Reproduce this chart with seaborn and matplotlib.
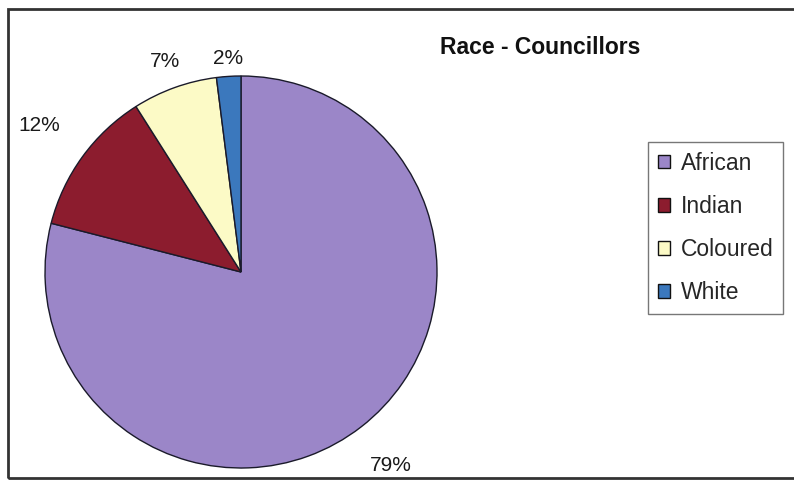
import numpy as np
import matplotlib
matplotlib.use("Agg")
import matplotlib.pyplot as plt
import seaborn as sns
from matplotlib.patches import Rectangle

# data
groups = ["African", "Indian", "Coloured", "White"]
shares = [79, 12, 7, 2]
pct_labels = ["79%", "12%", "7%", "2%"]
colors = ["#9b86c8", "#8c1c2e", "#fcfac6", "#3b78bd"]

# how far each percentage sits from the centre (in radii)
label_dist = [1.25, 1.27, 1.14, 1.09]

sns.set_theme(style="white")
plt.rcParams["font.family"] = ["Liberation Sans", "DejaVu Sans"]

fig = plt.figure(figsize=(7.94, 4.8), dpi=100)
fig.patch.set_facecolor("white")

# pie sits on the left of the canvas
ax = fig.add_axes([45 / 794, 12 / 480, 392 / 794, 392 / 480])
wedges, _ = ax.pie(shares, colors=colors, startangle=90, counterclock=False,
                   radius=1.0,
                   wedgeprops=dict(edgecolor="#1a1a2a", linewidth=1.0))
ax.set_xlim(-1.0, 1.0)
ax.set_ylim(-1.0, 1.0)
ax.set_aspect("equal")
ax.axis("off")

# percentage labels outside each wedge
for w, lab, d in zip(wedges, pct_labels, label_dist):
    mid = np.deg2rad((w.theta1 + w.theta2) / 2)
    ax.text(d * np.cos(mid), d * np.sin(mid), lab, ha="center", va="center",
            fontsize=15, color="#1a1a1a", clip_on=False)

fig.text(540 / 794, 1 - 47 / 480, "Race - Councillors", ha="center", va="center",
         fontsize=16.5, fontweight="bold", color="#111111")

leg = fig.legend(wedges, groups, loc="upper left",
                 bbox_to_anchor=(648 / 794, 1 - 142 / 480),
                 fontsize=16.5, frameon=True, fancybox=False, shadow=False,
                 handlelength=0.55, handleheight=0.55, handletextpad=0.45,
                 labelspacing=0.88, borderpad=0.42, borderaxespad=0)
leg.get_frame().set_edgecolor("#555555")
leg.get_frame().set_linewidth(1.0)
for h in leg.legend_handles:
    h.set_edgecolor("#111111")

# outer chart border (runs off the right edge)
fig.patches.append(Rectangle((8 / 794, 1 - 478 / 480), 1.0, (478 - 9) / 480,
                             transform=fig.transFigure, fill=False,
                             edgecolor="#333333", linewidth=2.0))

plt.savefig("out.png", dpi=100)
